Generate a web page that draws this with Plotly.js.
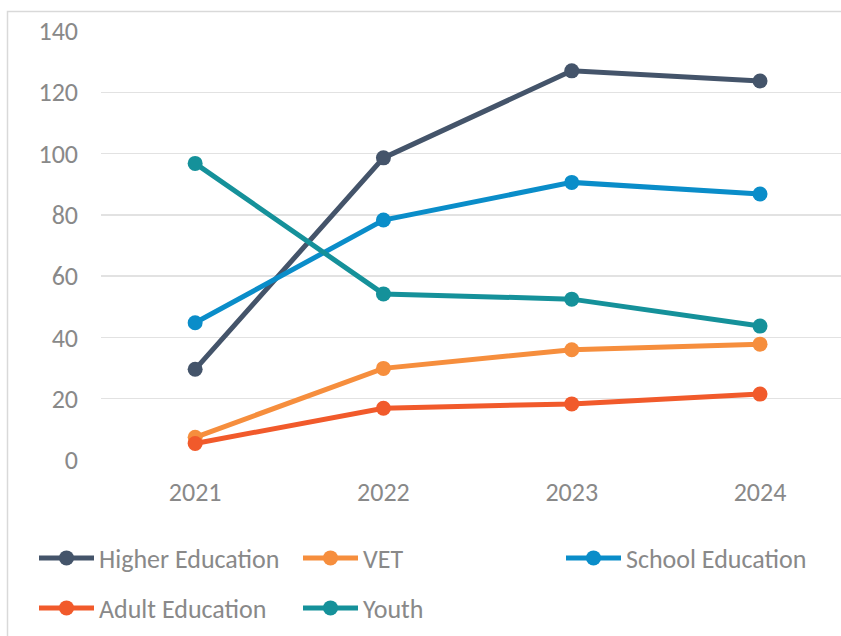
<!DOCTYPE html>
<html>
<head>
<meta charset="utf-8">
<script src="https://cdn.plot.ly/plotly-3.0.1.min.js"></script>
<style>html,body{margin:0;padding:0;background:#fff;}#chart{width:841px;height:636px;}</style>
</head>
<body>
<div id="chart"></div>
<script>
const years = ['2021', '2022', '2023', '2024'];
const seriesNames = ['Higher Education', 'VET', 'School Education', 'Adult Education', 'Youth'];
const higherEducation = [29.6, 98.6, 127.0, 123.7];
const vet = [7.4, 29.9, 36.0, 37.8];
const schoolEducation = [44.8, 78.3, 90.6, 86.8];
const adultEducation = [5.4, 16.9, 18.3, 21.5];
const youth = [96.8, 54.2, 52.5, 43.7];
const yTicks = [0, 20, 40, 60, 80, 100, 120, 140];

const colors = ['#44546A', '#F68E3D', '#0A8DC9', '#F15A2B', '#15919A'];
const values = [higherEducation, vet, schoolEducation, adultEducation, youth];
const legendIds = ['legend', 'legend2', 'legend3', 'legend4', 'legend5'];
// legend placement (container px): left x, centre y
const legendPos = [[34, 558], [298, 558], [561, 558], [34, 608], [298, 608]];

const FONT = 'Carlito, "Liberation Sans Narrow", "Open Sans", sans-serif';
const GREY = '#898989';
const FS = 26;

const traces = seriesNames.map((name, i) => ({
  type: 'scatter',
  mode: 'lines+markers',
  name: name,
  x: years,
  y: values[i],
  line: {color: colors[i], width: 5},
  marker: {color: colors[i], size: 15},
  legend: legendIds[i],
  cliponaxis: false
}));

const layout = {
  width: 841, height: 636,
  margin: {l: 101, r: 0, t: 31, b: 176},
  paper_bgcolor: '#ffffff',
  plot_bgcolor: '#ffffff',
  showlegend: true,
  xaxis: {
    type: 'category',
    range: [-0.5, 3.43],
    showgrid: false, zeroline: false, showline: false,
    ticks: '',
    ticklabelstandoff: 14,
    tickfont: {family: FONT, size: FS, color: GREY},
    fixedrange: true
  },
  yaxis: {
    range: [0, 140],
    tickvals: yTicks,
    ticktext: yTicks.map(String),
    showgrid: true, gridcolor: '#E2E2E2', gridwidth: 1.5,
    zeroline: false, showline: false,
    ticks: '',
    ticklabelstandoff: 22,
    tickfont: {family: FONT, size: FS, color: GREY},
    fixedrange: true
  },
  shapes: [{
    type: 'rect', xref: 'paper', yref: 'paper',
    x0: (7.5 - 101) / 740, x1: 1.2,
    y0: -0.6, y1: 1 + (31 - 11.5) / 429,
    line: {color: '#D9D9D9', width: 1.5},
    fillcolor: 'rgba(0,0,0,0)',
    layer: 'below'
  }]
};

legendIds.forEach((id, i) => {
  layout[id] = {
    orientation: 'h',
    xref: 'container', yref: 'container',
    xanchor: 'left', yanchor: 'middle',
    x: legendPos[i][0] / 841,
    y: 1 - legendPos[i][1] / 636,
    itemwidth: 55,
    font: {family: FONT, size: FS, color: GREY},
    bgcolor: 'rgba(0,0,0,0)'
  };
});

Plotly.newPlot('chart', traces, layout, {displayModeBar: false, staticPlot: true});
</script>
</body>
</html>
